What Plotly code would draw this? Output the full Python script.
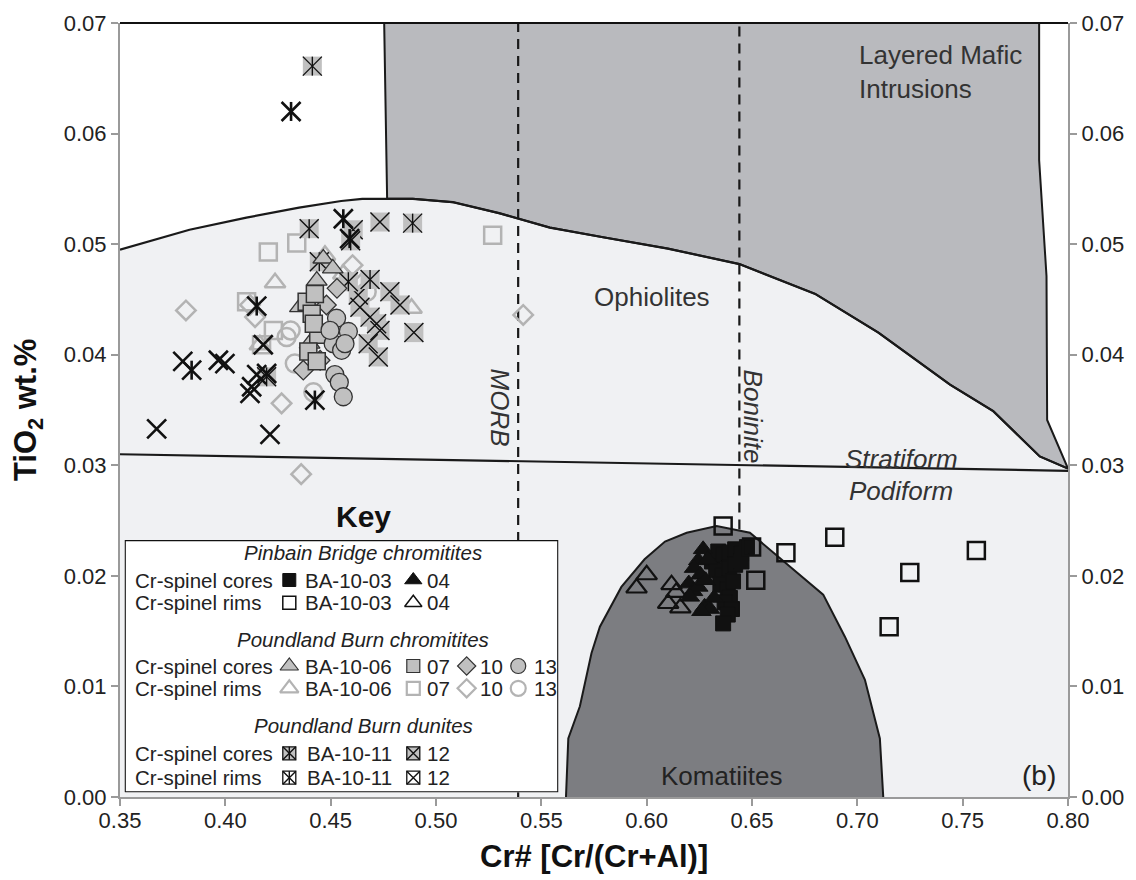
import plotly.graph_objects as go

# ---------------- field boundaries (Cr#, TiO2 wt.%) ----------------
oph_x = [0.35, 0.383, 0.41, 0.435, 0.455, 0.465, 0.489, 0.508, 0.530, 0.554, 0.58, 0.61,
         0.644, 0.68, 0.71, 0.744, 0.7645, 0.7866, 0.80]
oph_y = [0.0495, 0.0513, 0.0524, 0.0533, 0.0539, 0.0541, 0.0541, 0.0538, 0.0528, 0.0515,
         0.0506, 0.0496, 0.0482, 0.0455, 0.0420, 0.0373, 0.0349, 0.0308, 0.0297]

lmi_left_x = [0.4754, 0.4768]
lmi_left_y = [0.07, 0.0541]
lmi_right_x = [0.80, 0.7901, 0.7898, 0.7863, 0.7863]
lmi_right_y = [0.0297, 0.0341, 0.0471, 0.0576, 0.07]

kom_x = [0.5617, 0.5628, 0.5683, 0.5738, 0.5778, 0.5880, 0.5990, 0.6087, 0.6190, 0.6332,
         0.6490, 0.6838, 0.6941, 0.7036, 0.7107, 0.7123]
kom_y = [0.0, 0.0053, 0.0082, 0.0130, 0.0154, 0.0190, 0.0215, 0.0231, 0.0239, 0.0245,
         0.0239, 0.0183, 0.0145, 0.0106, 0.0053, 0.0]

strat_x = [0.35, 0.80]
strat_y = [0.0310, 0.0295]

# vertical reference lines: Cr# value and lower TiO2 limit of each dashed line
morb_x, morb_ymin = 0.539, 0.0
boninite_x, boninite_ymin = 0.644, 0.0242

# ---------------- Pinbain Bridge chromitites ----------------
pb03_core_x = [0.6310, 0.6340, 0.6365, 0.6395, 0.6420, 0.6448, 0.6476, 0.6330, 0.6360, 0.6392,
               0.6420, 0.6450, 0.6350, 0.6385, 0.6410, 0.6395, 0.6370, 0.6405, 0.6385, 0.6363]
pb03_core_y = [0.0213, 0.0222, 0.0219, 0.0221, 0.0224, 0.0220, 0.0226, 0.0205, 0.0200, 0.0207,
               0.0210, 0.0213, 0.0192, 0.0188, 0.0195, 0.0180, 0.0176, 0.0170, 0.0165, 0.0157]
pb04_core_x = [0.6268, 0.6245, 0.6225, 0.6290, 0.6255, 0.6200, 0.6220, 0.6245, 0.6280, 0.6205,
               0.6275, 0.6300, 0.6260, 0.6320]
pb04_core_y = [0.0224, 0.0214, 0.0207, 0.0215, 0.0201, 0.0193, 0.0186, 0.0190, 0.0196, 0.0181,
               0.0172, 0.0170, 0.0168, 0.0180]
pb03_rim_x = [0.6363, 0.6498, 0.6661, 0.6893, 0.6518, 0.7249, 0.7151, 0.7565]
pb03_rim_y = [0.0245, 0.0226, 0.0221, 0.0235, 0.0196, 0.0203, 0.0154, 0.0223]
pb04_rim_x = [0.5952, 0.6000, 0.6118, 0.6102, 0.6160, 0.6140]
pb04_rim_y = [0.0189, 0.0201, 0.0192, 0.0175, 0.0171, 0.0185]

# ---------------- Poundland Burn chromitites ----------------
pl06_core_x = [0.4465, 0.4434, 0.4354, 0.4400, 0.4510]
pl06_core_y = [0.0487, 0.0467, 0.0443, 0.0410, 0.0478]
pl06_rim_x = [0.4236, 0.4164, 0.4884, 0.4473, 0.4560]
pl06_rim_y = [0.0465, 0.0409, 0.0442, 0.0490, 0.0473]
pl07_core_x = [0.4386, 0.4425, 0.4410, 0.4441, 0.4394, 0.4434, 0.4420]
pl07_core_y = [0.0448, 0.0455, 0.0437, 0.0418, 0.0403, 0.0394, 0.0428]
pl07_rim_x = [0.4204, 0.4339, 0.5269, 0.4101, 0.4228, 0.4172]
pl07_rim_y = [0.0493, 0.0501, 0.0508, 0.0448, 0.0422, 0.0409]
pl10_core_x = [0.4370, 0.4450, 0.4480, 0.4530]
pl10_core_y = [0.0386, 0.0395, 0.0445, 0.0460]
pl10_rim_x = [0.3813, 0.4267, 0.4117, 0.4141, 0.4604, 0.5414, 0.4360, 0.4650]
pl10_rim_y = [0.0440, 0.0356, 0.0445, 0.0434, 0.0481, 0.0436, 0.0292, 0.0465]
pl13_core_x = [0.4528, 0.4584, 0.4512, 0.4552, 0.4568, 0.4520, 0.4541, 0.4560, 0.4497]
pl13_core_y = [0.0433, 0.0421, 0.0410, 0.0404, 0.0410, 0.0382, 0.0375, 0.0362, 0.0422]
pl13_rim_x = [0.4291, 0.4310, 0.4330, 0.4418, 0.4671]
pl13_rim_y = [0.0416, 0.0422, 0.0392, 0.0366, 0.0457]

# ---------------- Poundland Burn dunites ----------------
du11_core_x = [0.4413, 0.4398, 0.4595, 0.4889, 0.4446, 0.4584, 0.4687, 0.4196]
du11_core_y = [0.0661, 0.0514, 0.0503, 0.0519, 0.0484, 0.0466, 0.0468, 0.0380]
du12_core_x = [0.4734, 0.4607, 0.4895, 0.4781, 0.4829, 0.4639, 0.4687, 0.4718, 0.4734,
               0.4678, 0.4726, 0.4631]
du12_core_y = [0.0520, 0.0513, 0.0420, 0.0457, 0.0445, 0.0443, 0.0434, 0.0428, 0.0422,
               0.0410, 0.0398, 0.0454]
du11_rim_x = [0.4312, 0.4560, 0.4149, 0.3840, 0.4590, 0.4425]
du11_rim_y = [0.0620, 0.0523, 0.0444, 0.0386, 0.0505, 0.0359]
du12_rim_x = [0.3674, 0.4212, 0.3798, 0.3967, 0.3998, 0.4117, 0.4125, 0.4149, 0.4196, 0.4180]
du12_rim_y = [0.0333, 0.0328, 0.0394, 0.0395, 0.0392, 0.0365, 0.0371, 0.0382, 0.0383, 0.0409]

x_ticks = [0.35, 0.40, 0.45, 0.50, 0.55, 0.60, 0.65, 0.70, 0.75, 0.80]
y_ticks = [0.00, 0.01, 0.02, 0.03, 0.04, 0.05, 0.06, 0.07]

FONT = "Liberation Sans, Arial, sans-serif"
TXT = "#222222"
LIGHT = "#f0f1f3"
MID = "#b9babe"
DARK = "#7c7d81"
GREY_FILL = "#c0c0c0"
GREY_LINE = "#b3b3b3"

fig = go.Figure()


def line_trace(x, y, **kw):
    fig.add_trace(go.Scatter(x=x, y=y, mode="lines", hoverinfo="skip", showlegend=False, **kw))


# light ophiolite / podiform field
line_trace(oph_x + [0.80, 0.35], oph_y + [0.0, 0.0], fill="toself", fillcolor=LIGHT,
           line=dict(width=0))
# layered mafic intrusions field
upper = [(a, b) for a, b in zip(oph_x, oph_y) if a > lmi_left_x[-1]]
lmi_x = lmi_left_x + [p[0] for p in upper] + lmi_right_x[1:]
lmi_y = lmi_left_y + [p[1] for p in upper] + lmi_right_y[1:]
line_trace(lmi_x, lmi_y, fill="toself", fillcolor=MID, line=dict(color="#1a1a1a", width=2))
# komatiite field
line_trace(kom_x, kom_y, fill="toself", fillcolor=DARK, line=dict(width=0))
line_trace(kom_x, kom_y, line=dict(color="#1a1a1a", width=2))
# boundaries
line_trace(oph_x, oph_y, line=dict(color="#1a1a1a", width=2.2))
line_trace(strat_x, strat_y, line=dict(color="#1a1a1a", width=2.2))
for xv, y0 in ((morb_x, morb_ymin), (boninite_x, boninite_ymin)):
    line_trace([xv, xv], [y0, 0.07], line=dict(color="#1a1a1a", width=2.2, dash="10px,7px"))


def pts(x, y, symbol, size, color, line_color, line_width, xaxis="x", yaxis="y"):
    fig.add_trace(go.Scatter(
        x=x, y=y, mode="markers", hoverinfo="skip", showlegend=False, cliponaxis=False,
        xaxis=xaxis, yaxis=yaxis,
        marker=dict(symbol=symbol, size=size, color=color,
                    line=dict(color=line_color, width=line_width))))


def cross_box(x, y, size, fill, star, xaxis="x", yaxis="y", border=0):
    if fill is not None:
        pts(x, y, "square", size, fill, "#111111", border, xaxis, yaxis)
    pts(x, y, "x-thin", size, "#111111", "#111111", 1.4, xaxis, yaxis)
    if star:
        pts(x, y, "line-ns", size / 1.4, "#111111", "#111111", 1.4, xaxis, yaxis)


def bold_cross(x, y, size, star, xaxis="x", yaxis="y", width=2.6):
    pts(x, y, "x-thin", size, "#111111", "#111111", width, xaxis, yaxis)
    if star:
        pts(x, y, "line-ns", size / 1.4, "#111111", "#111111", width, xaxis, yaxis)


# Poundland Burn rims (open grey)
pts(pl10_rim_x, pl10_rim_y, "diamond-open", 15, GREY_LINE, GREY_LINE, 2.5)
pts(pl07_rim_x, pl07_rim_y, "square-open", 17, GREY_LINE, GREY_LINE, 2.5)
pts(pl06_rim_x, pl06_rim_y, "triangle-up-open", 18, GREY_LINE, GREY_LINE, 2.5)
pts(pl13_rim_x, pl13_rim_y, "circle-open", 18, GREY_LINE, GREY_LINE, 2.5)
# dunite cores
cross_box(du12_core_x, du12_core_y, 19, GREY_FILL, False)
cross_box(du11_core_x, du11_core_y, 19, GREY_FILL, True)
# Poundland Burn chromitite cores
pts(pl06_core_x, pl06_core_y, "triangle-up", 18, GREY_FILL, "#333333", 1.3)
pts(pl10_core_x, pl10_core_y, "diamond", 15, GREY_FILL, "#333333", 1.3)
pts(pl07_core_x, pl07_core_y, "square", 17, GREY_FILL, "#333333", 1.5)
pts(pl13_core_x, pl13_core_y, "circle", 18, GREY_FILL, "#333333", 1.3)
# dunite rims
bold_cross(du12_rim_x, du12_rim_y, 19, False)
bold_cross(du11_rim_x, du11_rim_y, 19, True)
# Pinbain Bridge
pts(pb04_rim_x, pb04_rim_y, "triangle-up-open", 18, "#111111", "#111111", 2.2)
pts(pb03_core_x, pb03_core_y, "square", 15, "#111111", "#111111", 1)
pts(pb04_core_x, pb04_core_y, "triangle-up", 17, "#111111", "#111111", 1)
pts(pb03_rim_x, pb03_rim_y, "square-open", 17, "#111111", "#111111", 2.5)

# invisible trace to register the right-hand axis
fig.add_trace(go.Scatter(x=[None], y=[None], yaxis="y3", showlegend=False, hoverinfo="skip"))

# ---------------- key box (own axes, unit square) ----------------
fig.add_trace(go.Scatter(x=[0, 1, 1, 0, 0], y=[0, 0, 1, 1, 0], mode="lines", fill="toself",
                         fillcolor="white", line=dict(color="#111111", width=2.2),
                         xaxis="x2", yaxis="y2", hoverinfo="skip", showlegend=False))

col_a, col_b, col_c, col_d = 0.3796, 0.6656, 0.7887, 0.9077
rows = [0.8415, 0.7515, 0.5006, 0.4122, 0.1546, 0.0579]
K = dict(xaxis="x2", yaxis="y2")
pts([col_a], [rows[0]], "square", 13, "#111111", "#111111", 1, **K)
pts([col_b], [rows[0]], "triangle-up", 15, "#111111", "#111111", 1, **K)
pts([col_a], [rows[1]], "square-open", 13, "#111111", "#111111", 1.5, **K)
pts([col_b], [rows[1]], "triangle-up-open", 15, "#111111", "#111111", 1.5, **K)
pts([col_a], [rows[2]], "triangle-up", 16, GREY_FILL, "#333333", 1.2, **K)
pts([col_b], [rows[2]], "square", 13, GREY_FILL, "#333333", 1.2, **K)
pts([col_c], [rows[2]], "diamond", 14, GREY_FILL, "#333333", 1.2, **K)
pts([col_d], [rows[2]], "circle", 15, GREY_FILL, "#333333", 1.2, **K)
pts([col_a], [rows[3]], "triangle-up-open", 16, GREY_LINE, GREY_LINE, 2.2, **K)
pts([col_b], [rows[3]], "square-open", 13, GREY_LINE, GREY_LINE, 2.2, **K)
pts([col_c], [rows[3]], "diamond-open", 14, GREY_LINE, GREY_LINE, 2.2, **K)
pts([col_d], [rows[3]], "circle-open", 15, GREY_LINE, GREY_LINE, 2.2, **K)
cross_box([col_a], [rows[4]], 13, GREY_FILL, True, border=1.3, **K)
cross_box([col_b], [rows[4]], 13, GREY_FILL, False, border=1.3, **K)
cross_box([col_a], [rows[5]], 13, "white", True, border=1.3, **K)
cross_box([col_b], [rows[5]], 13, "white", False, border=1.3, **K)

annotations = []


def text(x, y, s, size, xref="x", yref="y", xanchor="center", italic=False, bold=False,
         angle=0, color=TXT, align="center"):
    if bold:
        s = "<b>" + s + "</b>"
    if italic:
        s = "<i>" + s + "</i>"
    annotations.append(dict(x=x, y=y, xref=xref, yref=yref, text=s, showarrow=False,
                            xanchor=xanchor, yanchor="middle", textangle=angle, align=align,
                            font=dict(family=FONT, size=size, color=color)))


# key text
title_rows = [0.9497, 0.6064, 0.2628]
text(0.5503, title_rows[0], "Pinbain Bridge chromitites", 20.5, "x2", "y2", italic=True)
text(0.5503, title_rows[1], "Poundland Burn chromitites", 20.5, "x2", "y2", italic=True)
text(0.5503, title_rows[2], "Poundland Burn dunites", 20.5, "x2", "y2", italic=True)
for i, r in enumerate(rows):
    label = "Cr-spinel cores" if i % 2 == 0 else "Cr-spinel rims"
    text(0.0184, r, label, 20.5, "x2", "y2", xanchor="left")
for r in rows[0:2]:
    text(0.4105, r, "BA-10-03", 20.5, "x2", "y2", xanchor="left")
    text(0.6926, r, "04", 20.5, "x2", "y2", xanchor="left")
for r in rows[2:4]:
    text(0.4105, r, "BA-10-06", 20.5, "x2", "y2", xanchor="left")
    text(0.6926, r, "07", 20.5, "x2", "y2", xanchor="left")
    text(0.8155, r, "10", 20.5, "x2", "y2", xanchor="left")
    text(0.9387, r, "13", 20.5, "x2", "y2", xanchor="left")
for r in rows[4:6]:
    text(0.4156, r, "BA-10-11", 20.5, "x2", "y2", xanchor="left")
    text(0.6926, r, "12", 20.5, "x2", "y2", xanchor="left")
text(0.2566, 0.362, "Key", 30, "paper", "paper", bold=True, color="#111111")

# field labels
text(0.7000, 0.0656, "Layered Mafic<br>Intrusions", 26, xanchor="left", color="#333333",
     align="left")
text(0.6027, 0.0452, "Ophiolites", 26, color="#333333")
text(0.5305, 0.0352, "MORB", 26, italic=True, angle=90, color="#333333")
text(0.6505, 0.0344, "Boninite", 26, italic=True, angle=90, color="#333333")
text(0.7209, 0.0306, "Stratiform", 26, italic=True, color="#333333")
text(0.7209, 0.0277, "Podiform", 26, italic=True, color="#333333")
text(0.6353, 0.0019, "Komatiites", 26, color="#222222")
text(0.7864, 0.0019, "(b)", 28, color="#222222")

# axis titles
text(0.5, -0.077, "Cr# [Cr/(Cr+Al)]", 31, "paper", "paper", bold=True, color="#111111")
text(-0.097, 0.5, "TiO<sub>2</sub> wt.%", 31, "paper", "paper", bold=True, angle=-90,
     color="#111111")

axis_common = dict(showline=True, linecolor="#9a9a9a", linewidth=2, ticks="outside",
                   ticklen=7, tickwidth=2, tickcolor="#9a9a9a", showgrid=False,
                   zeroline=False, tickfont=dict(family=FONT, size=22, color=TXT))

fig.update_layout(
    width=1136, height=880,
    margin=dict(l=120, r=68, t=23, b=83),
    paper_bgcolor="white", plot_bgcolor="white",
    showlegend=False,
    font=dict(family=FONT, color=TXT),
    xaxis=dict(range=[0.35, 0.80], tickvals=x_ticks, ticklabelstandoff=-4,
               ticktext=["%.2f" % v for v in x_ticks], **axis_common),
    yaxis=dict(range=[0.0, 0.07], tickvals=y_ticks,
               ticktext=["%.2f" % v for v in y_ticks], **axis_common),
    yaxis3=dict(range=[0.0, 0.07], tickvals=y_ticks, overlaying="y", side="right",
                ticktext=["%.2f" % v for v in y_ticks], **axis_common),
    xaxis2=dict(domain=[0.005, 0.4623], range=[0, 1], visible=False, anchor="y2",
                fixedrange=True),
    yaxis2=dict(domain=[0.0061, 0.332], range=[0, 1], visible=False, anchor="x2",
                fixedrange=True),
    shapes=[dict(type="line", xref="paper", yref="paper", x0=0, x1=1, y0=1, y1=1,
                 line=dict(color="#111111", width=2))],
    annotations=annotations,
)

fig.write_html("out.html")
